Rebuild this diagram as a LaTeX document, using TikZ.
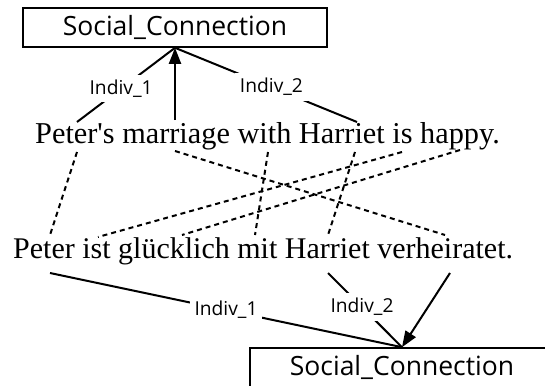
\documentclass[tikz,border=0pt]{standalone}
\usepackage{fontspec}
\setmainfont{Liberation Serif}
\newfontfamily\labelfont{Open Sans}
\usetikzlibrary{arrows.meta}
\begin{document}
\begin{tikzpicture}[x=1pt,y=-1pt,
  concept/.style={draw, line width=1.6pt, minimum width=304pt, minimum height=39pt,
    inner sep=0pt, font=\labelfont\fontsize{26.5}{30}\selectfont},
  role/.style={fill=white, inner sep=5pt, font=\labelfont\fontsize{19.2}{22}\selectfont},
  link/.style={line width=2pt},
  align/.style={line width=2pt, dash pattern=on 5pt off 4pt},
  head/.style={-{Triangle[length=16pt,width=12pt]}},
  sentence/.style={anchor=base west, inner sep=0pt}]
\useasboundingbox (0,0) rectangle (545,385);
\clip (0,0) rectangle (545,385);

% frame boxes
\node[concept] (top) at (175,27.5) {Social\_Connection};
\node[concept] (bot) at (402,367.5) {Social\_Connection};

% the two sentences
\node[sentence, font=\fontsize{30.3}{34}\selectfont] (en) at (35,143)
  {Peter\textquotesingle s marriage with Harriet is happy.};
\node[sentence, font=\fontsize{30}{34}\selectfont] (de) at (13,258)
  {Peter ist glücklich mit Harriet verheiratet.};

% word attachment points, English sentence
\coordinate (en-peter-up)   at (77,122);
\coordinate (en-peter-dn)   at (77,152);
\coordinate (en-marr-up)    at (175,120);
\coordinate (en-marr-dn)    at (175,151);
\coordinate (en-with-dn)    at (268,152);
\coordinate (en-harriet-up) at (357,122);
\coordinate (en-harriet-dn) at (355,152);
\coordinate (en-is-dn)      at (402,152);
\coordinate (en-happy-dn)   at (460,150);

% word attachment points, German sentence
\coordinate (de-peter-up)   at (50,235);
\coordinate (de-peter-dn)   at (50,273);
\coordinate (de-ist-up)     at (98,237);
\coordinate (de-glueck-up)  at (182,235);
\coordinate (de-mit-up)     at (255,235);
\coordinate (de-harriet-up) at (328,235);
\coordinate (de-harriet-dn) at (328,273);
\coordinate (de-verh-up)    at (445,235);
\coordinate (de-verh-dn)    at (450,273);

% frame for the English sentence
\draw[link] (top.south) -- node[role,pos=0.55] {Indiv\_1} (en-peter-up);
\draw[link] (top.south) -- node[role,pos=0.53] {Indiv\_2} (en-harriet-up);
\draw[link,head] (en-marr-up) -- (top.south);

% word alignments
\draw[align] (en-peter-dn)   -- (de-peter-up);
\draw[align] (en-marr-dn)    -- (de-verh-up);
\draw[align] (en-with-dn)    -- (de-mit-up);
\draw[align] (en-harriet-dn) -- (de-harriet-up);
\draw[align] (en-is-dn)      -- (de-ist-up);
\draw[align] (en-happy-dn)   -- (de-glueck-up);

% frame for the German sentence
\draw[link] (de-peter-dn) -- node[role,pos=0.5] {Indiv\_1} (bot.north);
\draw[link] (de-harriet-dn) -- node[role,pos=0.46] {Indiv\_2} (bot.north);
\draw[link,head] (de-verh-dn) -- (bot.north);
\end{tikzpicture}
\end{document}
